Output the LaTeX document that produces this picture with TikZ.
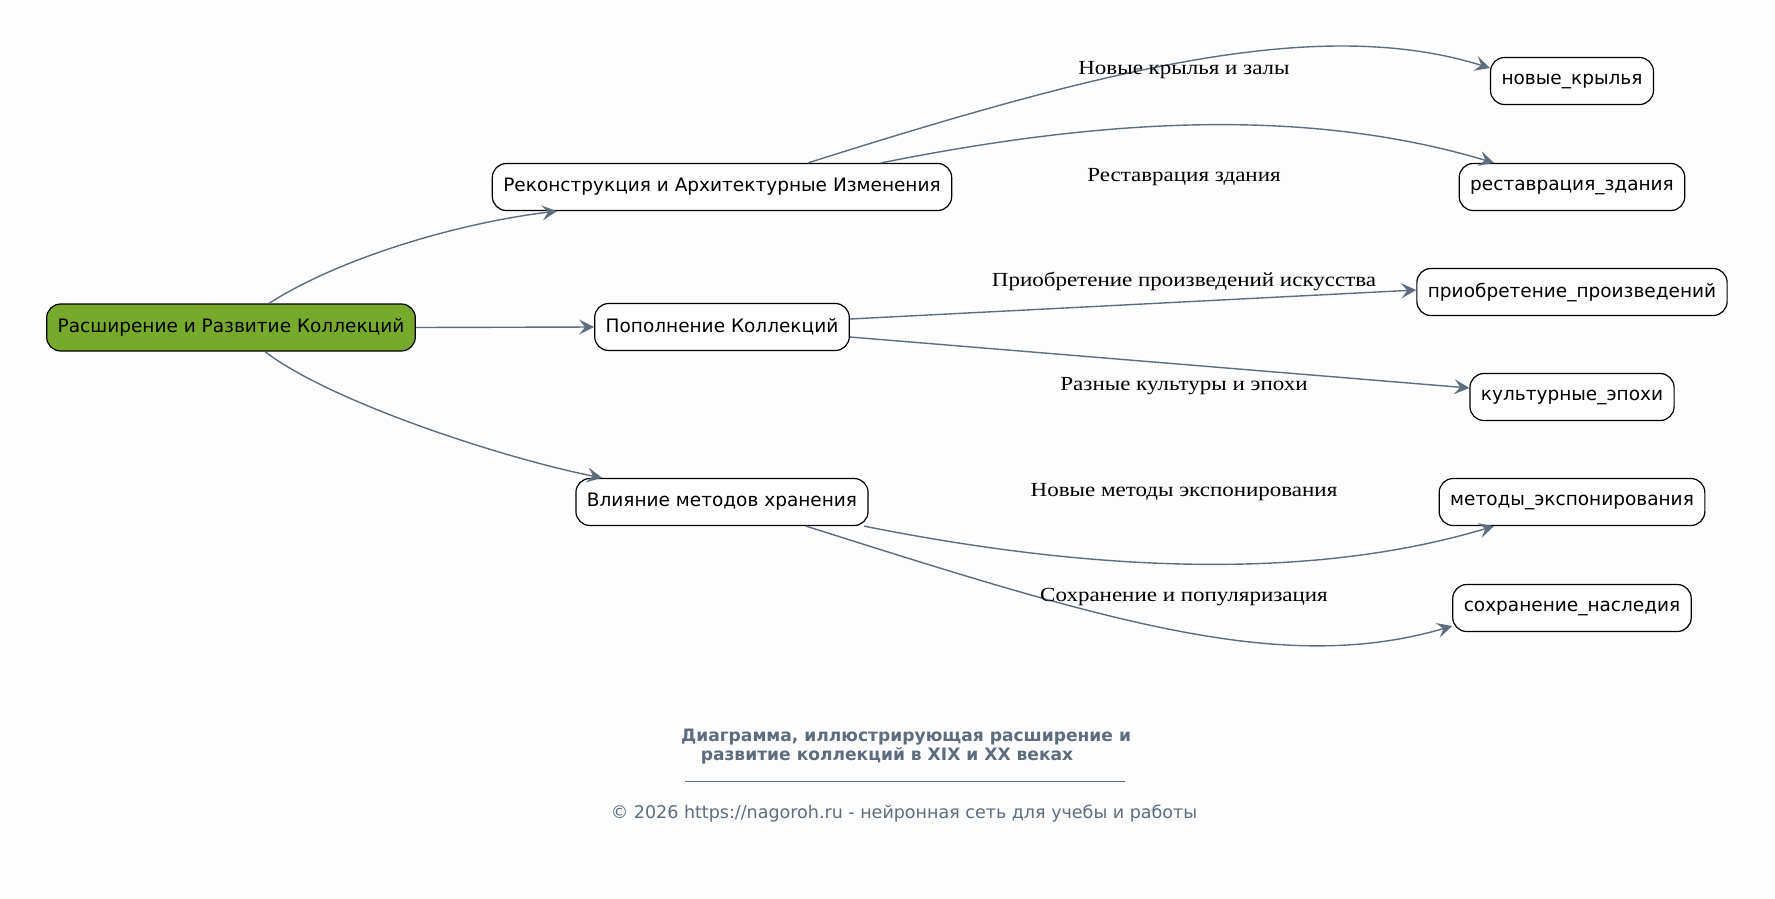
\documentclass[tikz,border=0pt]{standalone}
\usepackage{fontspec}
\setmainfont{Liberation Serif}
\setsansfont{DejaVu Sans}
\newfontfamily\lblfont[FakeStretch=1.15]{Liberation Serif}
\usepackage{tikz}
\usetikzlibrary{arrows.meta}

\definecolor{edgegray}{HTML}{5D6D7E}
\definecolor{rootgreen}{HTML}{77AA2A}
\definecolor{bgpaper}{HTML}{FDFDFD}

\begin{document}
\begin{tikzpicture}[x=1pt,y=1pt,
	box/.style={draw=black, line width=1.2pt, rounded corners=14pt, fill=white,
		minimum height=47pt, inner xsep=11pt, font=\sffamily\fontsize{18.5}{22}\selectfont},
	rootbox/.style={box, fill=rootgreen},
	link/.style={edgegray, line width=1.4pt, -{Stealth[length=15pt,width=15pt,inset=6pt]}},
	lbl/.style={font=\lblfont\fontsize{20}{24}\selectfont, inner sep=0pt}]

	\fill[bgpaper] (0,0) rectangle (1775,-898);
	\useasboundingbox (0,0) rectangle (1775,-898);

	% Nodes
	\node[rootbox] (root) at (231,-327.5) {Расширение и Развитие Коллекций};
	\node[box] (rek) at (722,-187) {Реконструкция и Архитектурные Изменения};
	\node[box] (pop) at (722,-327) {Пополнение Коллекций};
	\node[box] (vli) at (722,-502) {Влияние методов хранения};

	\node[box] (nk) at (1572,-81) {новые\_крылья};
	\node[box] (rz) at (1572,-187) {реставрация\_здания};
	\node[box] (pr) at (1572,-292) {приобретение\_произведений};
	\node[box] (ke) at (1572,-397) {культурные\_эпохи};
	\node[box] (me) at (1572,-502) {методы\_экспонирования};
	\node[box] (so) at (1572,-608) {сохранение\_наследия};

	% From the root
	\draw[link] ([xshift=38pt]root.north) .. controls +(70,45) and +(-100,-12) .. ([xshift=-165pt]rek.south);
	\draw[link] (root.east) -- (pop.west);
	\draw[link] ([xshift=34pt]root.south) .. controls +(65,-50) and +(-100,20) .. ([xshift=-120pt]vli.north);

	% Second level
	\draw[link] ([xshift=86pt]rek.north) .. controls +(300,95) and +(-170,53) .. ([yshift=13pt]nk.west);
	\draw[link] ([xshift=159pt]rek.north) .. controls +(200,40) and +(-200,60) .. ([xshift=-78pt]rz.north);
	\draw[link] ([yshift=8pt]pop.east) -- ([yshift=2pt]pr.west);
	\draw[link] ([yshift=-10pt]pop.east) -- ([yshift=9pt]ke.west);
	\draw[link] ([xshift=142pt]vli.south) .. controls +(200,-40) and +(-200,-60) .. ([xshift=-78pt]me.south);
	\draw[link] ([xshift=84pt]vli.south) .. controls +(300,-95) and +(-170,-50) .. ([yshift=-18pt]so.west);

	% Labels
	\node[lbl] (l1) at (1184,-70) {Новые крылья и залы};
	\node[lbl] (l2) at (1184,-177) {Реставрация здания};
	\node[lbl] (l3) at (1184,-281) {Приобретение произведений искусства};
	\node[lbl] (l4) at (1184,-386) {Разные культуры и эпохи};
	\node[lbl] (l5) at (1184,-492) {Новые методы экспонирования};
	\node[lbl] (l6) at (1184,-597) {Сохранение и популяризация};

	% Title
	\node[text=edgegray, font=\sffamily\bfseries\fontsize{17.1}{20}\selectfont] (t1) at (906,-737) {Диаграмма, иллюстрирующая расширение и};
	\node[text=edgegray, font=\sffamily\bfseries\fontsize{17.1}{20}\selectfont] (t2) at (887,-756) {развитие коллекций в XIX и XX веках};
	\coordinate (ul) at (685,-781);
	\coordinate (ur) at (1125,-781);
	\draw[edgegray, line width=0.8pt] (ul) -- (ur);
	\node[text=edgegray, font=\sffamily\fontsize{17.5}{20}\selectfont] (copy) at (904,-814) {© 2026 https://nagoroh.ru - нейронная сеть для учебы и работы};

\end{tikzpicture}
\end{document}
